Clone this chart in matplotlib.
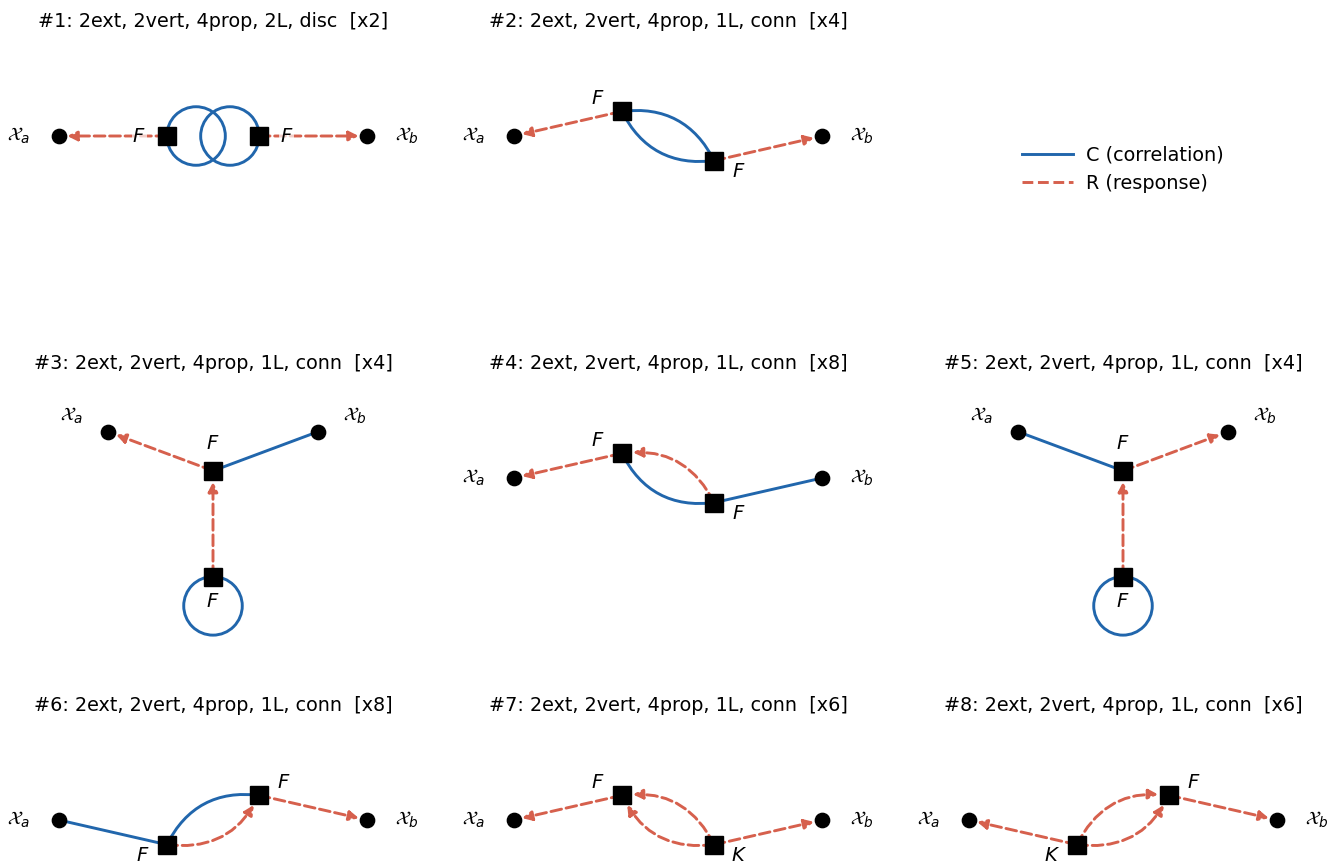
import numpy as np
import matplotlib.pyplot as plt
from matplotlib.patches import FancyArrowPatch, Circle
from matplotlib.lines import Line2D

C_COL = '#2166ac'
R_COL = '#d6604d'

titles = [
    "#1: 2ext, 2vert, 4prop, 2L, disc  [x2]",
    "#2: 2ext, 2vert, 4prop, 1L, conn  [x4]",
    "#3: 2ext, 2vert, 4prop, 1L, conn  [x4]",
    "#4: 2ext, 2vert, 4prop, 1L, conn  [x8]",
    "#5: 2ext, 2vert, 4prop, 1L, conn  [x4]",
    "#6: 2ext, 2vert, 4prop, 1L, conn  [x8]",
    "#7: 2ext, 2vert, 4prop, 1L, conn  [x6]",
    "#8: 2ext, 2vert, 4prop, 1L, conn  [x6]",
]
# grid slot of each diagram (slot 2 holds the legend)
slots = [0, 1, 3, 4, 5, 6, 7, 8]

# node layouts (diagram units)
flat = {'a': (-1.5, 0.0), 'b': (1.5, 0.0), 'v1': (-0.45, 0.0), 'v2': (0.45, 0.0)}
tilt_down = {'a': (-1.5, 0.0), 'b': (1.5, 0.0), 'v1': (-0.45, 0.24), 'v2': (0.45, -0.24)}
tilt_up = {'a': (-1.5, 0.0), 'b': (1.5, 0.0), 'v1': (-0.45, -0.24), 'v2': (0.45, 0.24)}
tee = {'a': (-1.02, 0.45), 'b': (1.02, 0.45), 'v1': (0.0, 0.07), 'v2': (0.0, -0.96)}
layouts = [flat, tilt_down, tee, tilt_down, tee, tilt_up, tilt_down, tilt_up]

# vertex labels
vlabels = [
    {'v1': 'F', 'v2': 'F'}, {'v1': 'F', 'v2': 'F'}, {'v1': 'F', 'v2': 'F'},
    {'v1': 'F', 'v2': 'F'}, {'v1': 'F', 'v2': 'F'}, {'v1': 'F', 'v2': 'F'},
    {'v1': 'F', 'v2': 'K'}, {'v1': 'K', 'v2': 'F'},
]

# edges: (source, target, kind, curvature)
edges = [
    [('v1', 'a', 'R', 0), ('v2', 'b', 'R', 0)],
    [('v1', 'a', 'R', 0), ('v1', 'v2', 'C', 0.35), ('v1', 'v2', 'C', -0.35), ('v2', 'b', 'R', 0)],
    [('v1', 'a', 'R', 0), ('v1', 'b', 'C', 0), ('v2', 'v1', 'R', 0)],
    [('v1', 'a', 'R', 0), ('v1', 'v2', 'C', 0.35), ('v2', 'v1', 'R', 0.35), ('v2', 'b', 'C', 0)],
    [('v1', 'a', 'C', 0), ('v1', 'b', 'R', 0), ('v2', 'v1', 'R', 0)],
    [('a', 'v1', 'C', 0), ('v1', 'v2', 'C', -0.35), ('v1', 'v2', 'R', 0.35), ('v2', 'b', 'R', 0)],
    [('v1', 'a', 'R', 0), ('v2', 'v1', 'R', 0.35), ('v2', 'v1', 'R', -0.35), ('v2', 'b', 'R', 0)],
    [('v1', 'a', 'R', 0), ('v1', 'v2', 'R', 0.35), ('v1', 'v2', 'R', -0.35), ('v2', 'b', 'R', 0)],
]

# self loops (C): (vertex, direction of loop centre)
loops = [
    [('v1', (1, 0)), ('v2', (-1, 0))],
    [], [('v2', (0, -1))], [], [('v2', (0, -1))], [], [], [],
]

S = 102.7  # px per diagram unit
W, H = 1333, 865
col_cx = [213, 668, 1123]
row_oy = [136, 478, 820]
LOOP_R = 0.285

fig = plt.figure(figsize=(W / 100, H / 100), dpi=100)


def make_ax(slot):
    r, c = divmod(slot, 3)
    cx, oy = col_cx[c], row_oy[r]
    top = oy - 100
    h = 280 if r < 2 else H - top
    ax = fig.add_axes([(cx - 220) / W, 1 - (top + h) / H, 440 / W, h / H])
    ax.set_xlim(-220 / S, 220 / S)
    ax.set_ylim((100 - h) / S, 100 / S)
    ax.axis('off')
    return ax


def draw(k, ax):
    pos = layouts[k]
    for s, t, kind, rad in edges[k]:
        col = C_COL if kind == 'C' else R_COL
        ls = '-' if kind == 'C' else '--'
        style = '-' if kind == 'C' else '-|>'
        shrinkB = 0 if kind == 'C' else (6 if t in ('a', 'b') else 8)
        p = FancyArrowPatch(pos[s], pos[t], arrowstyle=style, mutation_scale=14,
                            connectionstyle=f'arc3,rad={rad}', color=col, lw=2.1,
                            linestyle=ls, shrinkA=0, shrinkB=shrinkB, zorder=2)
        ax.add_patch(p)
    for v, d in loops[k]:
        x, y = pos[v]
        ax.add_patch(Circle((x + d[0] * LOOP_R, y + d[1] * LOOP_R), LOOP_R,
                            fill=False, ec=C_COL, lw=2.1, zorder=2))
    for n in ('a', 'b'):
        x, y = pos[n]
        ax.plot(x, y, 'o', color='black', ms=10.3, zorder=3)
        r = np.hypot(x, y)
        lab = r'$\mathcal{X}_a$' if n == 'a' else r'$\mathcal{X}_b$'
        ax.text(x + 0.39 * x / r, y + 0.39 * y / r, lab, ha='center', va='center',
                fontsize=14, zorder=4)
    for n in ('v1', 'v2'):
        x, y = pos[n]
        ax.plot(x, y, 's', color='black', ms=12.7, zorder=3)
        r = np.hypot(x, y)
        lift = 0.025 if y < 0 else 0.0
        ax.text(x + 0.27 * x / r, y + 0.27 * y / r + lift, f'${vlabels[k][n]}$',
                ha='center', va='center', fontsize=14, zorder=4,
                bbox=dict(facecolor='white', edgecolor='none', alpha=0.7, pad=0.5))


for k in range(8):
    ax = make_ax(slots[k])
    ax.set_title(titles[k], fontsize=13.8, pad=6.5)
    draw(k, ax)

lax = make_ax(2)
handles = [Line2D([], [], color=C_COL, lw=2.1), Line2D([], [], color=R_COL, lw=2.1, ls='--')]
fig.legend(handles, ['C (correlation)', 'R (response)'], loc='upper left',
           bbox_to_anchor=(1005 / W, 1 - 128 / H), frameon=False, fontsize=13.9,
           handlelength=2.6, handletextpad=0.7)

fig.savefig('out.png', dpi=100)
